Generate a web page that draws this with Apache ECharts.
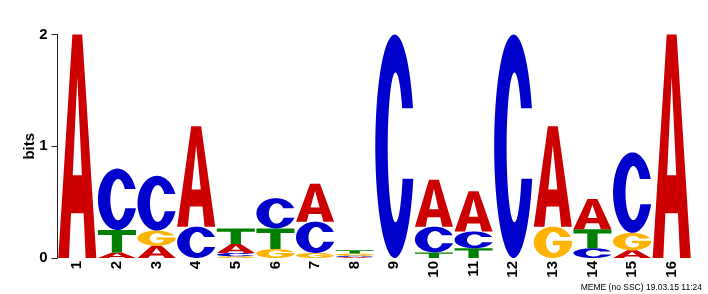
<!DOCTYPE html>
<html>
<head>
<meta charset="utf-8">
<script src="https://cdn.jsdelivr.net/npm/echarts@6/dist/echarts.min.js"></script>
<style>
html,body{margin:0;padding:0;background:#fff;}
#chart{width:708px;height:294px;}
</style>
</head>
<body>
<div id="chart"></div>
<script>
// ---- data (information content in bits per letter, per position) ----
const positions = ['1','2','3','4','5','6','7','8','9','10','11','12','13','14','15','16'];
const letters = ['A','C','G','T'];
const bitsA = [2.0, 0.05, 0.11, 0.90, 0.08, 0,    0.34, 0.01, 0,   0.42, 0.36, 0,   0.90, 0.27, 0.07, 2.0];
const bitsC = [0,   0.55, 0.49, 0.28, 0.03, 0.27, 0.28, 0.01, 2.0, 0.23, 0.15, 2.0, 0,    0.087,0.72, 0];
const bitsG = [0,   0,    0.135,0,    0.015,0.08, 0.045,0.02, 0,   0,    0,    0,   0.28, 0,    0.155,0];
const bitsT = [0,   0.20, 0,    0,    0.14, 0.185,0,    0.03, 0,   0.05, 0.087,0,   0,    0.17, 0,    0];
const yTicks = [0, 1, 2];
const footer = 'MEME (no SSC) 19.03.15 11:24';

// ---- glyph outlines (unit box 0..100) ----
function ellPts(cx, cy, rx, ry, t0, t1, n) {
  const pts = [];
  for (let i = 0; i <= n; i++) {
    const t = t0 + (t1 - t0) * i / n;
    pts.push([cx + rx * Math.cos(t), cy + ry * Math.sin(t)]);
  }
  return pts;
}
function polyPath(pts) {
  return 'M' + pts.map(p => p[0].toFixed(2) + ',' + p[1].toFixed(2)).join(' L') + ' Z';
}
const TWO_PI = Math.PI * 2;
const O = {cx: 50, cy: 50, rx: 50, ry: 50};
const I = {cx: 52, cy: 50.5, rx: 20, ry: 33.5};
const upperCut = 33;
function glyphC() {
  const lowerCut = 64.5;
  const tos = -Math.asin((O.cy - upperCut) / O.ry);
  const toe = -TWO_PI + Math.asin((lowerCut - O.cy) / O.ry);
  const tis = -TWO_PI + Math.asin((lowerCut - I.cy) / I.ry);
  const tie = -Math.asin((I.cy - upperCut) / I.ry);
  const pts = ellPts(O.cx, O.cy, O.rx, O.ry, tos, toe, 60)
    .concat(ellPts(I.cx, I.cy, I.rx, I.ry, tis, tie, 60));
  return polyPath(pts);
}
function glyphG() {
  const tos = -Math.asin((O.cy - upperCut) / O.ry);
  const toe = -TWO_PI + Math.asin((62 - O.cy) / O.ry);
  const stemX = 68;
  const ct = (stemX - I.cx) / I.rx;
  const tis = -TWO_PI + Math.asin(Math.sqrt(1 - ct * ct));
  const tie = -Math.asin((I.cy - upperCut) / I.ry);
  const pts = ellPts(O.cx, O.cy, O.rx, O.ry, tos, toe, 60)
    .concat([[100, 62], [100, 45], [50, 45], [50, 59], [stemX, 59]])
    .concat(ellPts(I.cx, I.cy, I.rx, I.ry, tis, tie, 60));
  return polyPath(pts);
}
const GLYPHS = [
  'M0,100 L37,0 L63,0 L100,100 L72,100 L66.6,80 L33.4,80 L28,100 Z M38,63 L62,63 L50,19 Z',
  glyphC(),
  glyphG(),
  'M0,0 L100,0 L100,22 L63.5,22 L63.5,100 L36.5,100 L36.5,22 L0,22 Z'
];
const COLORS = ['#CC0000', '#0000CC', '#FFB300', '#008000'];

// ---- build stacked letter boxes ----
const allBits = [bitsA, bitsC, bitsG, bitsT];
const boxes = [];
positions.forEach((p, i) => {
  const items = letters.map((l, k) => ({k: k, h: allBits[k][i]})).filter(d => d.h > 0);
  items.sort((a, b) => a.h - b.h);
  let base = 0;
  items.forEach(d => {
    boxes.push([i, base, base + d.h, d.k]);
    base += d.h;
  });
});

const chart = echarts.init(document.getElementById('chart'), null, {renderer: 'canvas'});
const FONT = 'Liberation Sans';
chart.setOption({
  animation: false,
  grid: {left: 57.5, right: 16.5, top: 34.5, bottom: 36, containLabel: false},
  xAxis: {
    type: 'category',
    data: positions,
    boundaryGap: true,
    axisLine: {show: false},
    axisTick: {show: false},
    axisLabel: {rotate: 90, margin: 3, fontSize: 15, fontWeight: 'bold', color: '#000', fontFamily: FONT, interval: 0}
  },
  yAxis: {
    type: 'value',
    min: yTicks[0],
    max: yTicks[yTicks.length - 1],
    interval: 1,
    name: 'bits',
    nameLocation: 'middle',
    nameGap: 20,
    nameMoveOverlap: false,
    nameTextStyle: {fontSize: 15, fontWeight: 'bold', color: '#000', fontFamily: FONT},
    axisLine: {show: true, lineStyle: {color: '#222', width: 1}},
    axisTick: {show: true, length: 6, lineStyle: {color: '#222', width: 1}},
    axisLabel: {margin: 10, fontSize: 15, fontWeight: 'bold', color: '#000', fontFamily: FONT},
    splitLine: {show: false}
  },
  graphic: [{
    type: 'text',
    right: 6,
    top: 283,
    style: {text: footer, font: '8.5px "Liberation Sans"', fill: '#000'}
  }],
  series: [{
    type: 'custom',
    data: boxes,
    encode: {x: 0, y: [1, 2]},
    clip: false,
    renderItem: function (params, api) {
      const col = api.value(0), y0 = api.value(1), y1 = api.value(2), k = api.value(3);
      const p0 = api.coord([col, y0]);
      const p1 = api.coord([col, y1]);
      const bw = api.size([1, 0])[0];
      const w = bw * 0.96;
      const h = p0[1] - p1[1];
      return {
        type: 'path',
        shape: {pathData: GLYPHS[k], x: p0[0] - w / 2, y: p1[1], width: w, height: h, layout: 'cover'},
        style: {fill: COLORS[k]}
      };
    }
  }]
});
</script>
</body>
</html>
